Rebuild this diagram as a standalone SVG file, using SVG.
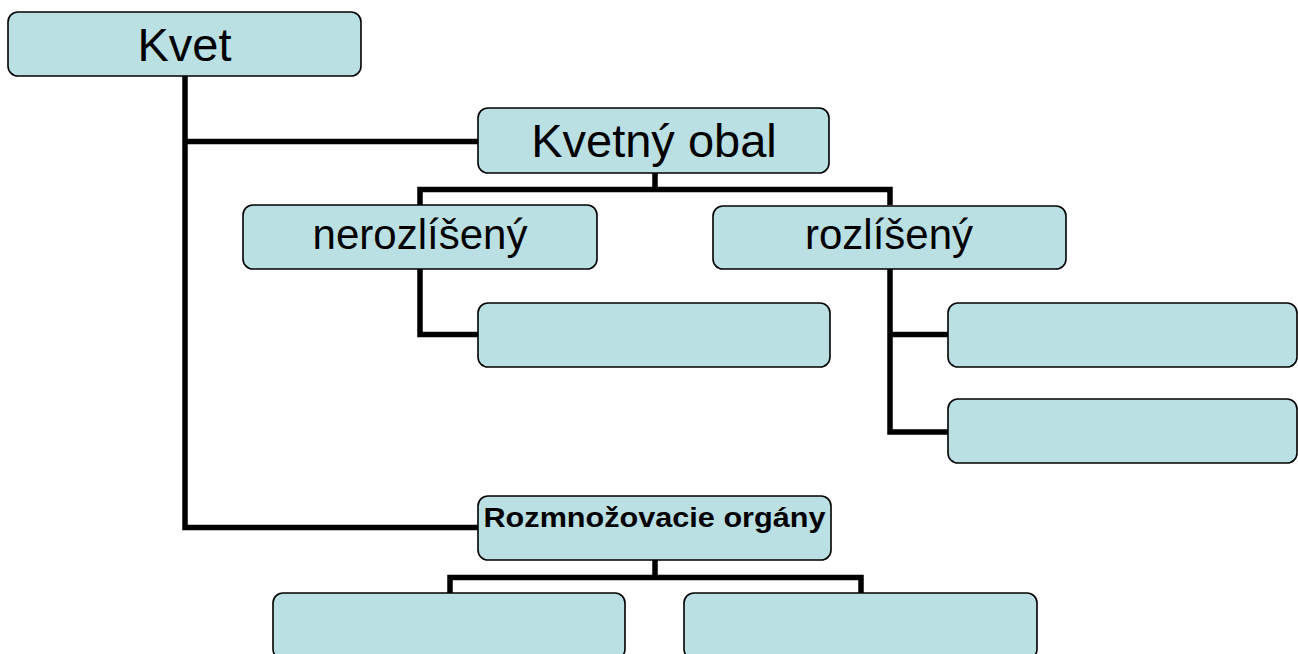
<svg xmlns="http://www.w3.org/2000/svg" width="1298" height="654" viewBox="0 0 1298 654">
<style>
.box{fill:#bae0e3;stroke:#000;stroke-width:1.6}
.lbl{font-family:"Liberation Sans",Arial,sans-serif;fill:#000;text-anchor:middle}
.big{font-size:47px}
.mid{font-size:42px}
.bold{font-size:27px;font-weight:bold}
.conn{fill:none;stroke:#000;stroke-width:5.5;stroke-linejoin:miter;stroke-linecap:butt}
</style>
<rect width="1298" height="654" fill="#fff"/>
<g id="connectors">
<path class="conn" d="M185,76 V527.5 H478"/>
<path class="conn" d="M185,141.5 H478"/>
<path class="conn" d="M655,173 V189.5"/>
<path class="conn" d="M420,205 V189.5 H890 V205"/>
<path class="conn" d="M420,269 V334.5 H478"/>
<path class="conn" d="M890,269 V432 H948"/>
<path class="conn" d="M890,334.5 H948"/>
<path class="conn" d="M655,560 V577.5"/>
<path class="conn" d="M450,593 V577.5 H861 V593"/>
</g>
<g id="kvet">
<rect class="box" x="8" y="12" width="353" height="64" rx="10"/>
<text class="lbl big" x="184.5" y="61">Kvet</text>
</g>
<g id="kvetny-obal">
<rect class="box" x="478" y="108" width="351" height="65" rx="10"/>
<text class="lbl big" x="654" y="157">Kvetný obal</text>
</g>
<g id="nerozliseny">
<rect class="box" x="243" y="205" width="354" height="64" rx="10"/>
<text class="lbl mid" x="420" y="249">nerozlíšený</text>
</g>
<g id="rozliseny">
<rect class="box" x="713" y="206" width="353" height="63" rx="10"/>
<text class="lbl mid" x="889" y="249">rozlíšený</text>
</g>
<g id="nerozliseny-child">
<rect class="box" x="478" y="303" width="352" height="64" rx="10"/>
</g>
<g id="rozliseny-child-1">
<rect class="box" x="948" y="303" width="349" height="64" rx="10"/>
</g>
<g id="rozliseny-child-2">
<rect class="box" x="948" y="399" width="349" height="64" rx="10"/>
</g>
<g id="rozmnozovacie">
<rect class="box" x="478" y="496" width="353" height="64" rx="10"/>
<text class="lbl bold" x="654.5" y="527" textLength="342" lengthAdjust="spacingAndGlyphs">Rozmnožovacie orgány</text>
</g>
<g id="rozmnozovacie-child-1">
<rect class="box" x="273" y="593" width="352" height="66" rx="10"/>
</g>
<g id="rozmnozovacie-child-2">
<rect class="box" x="684" y="593" width="353" height="66" rx="10"/>
</g>
</svg>
